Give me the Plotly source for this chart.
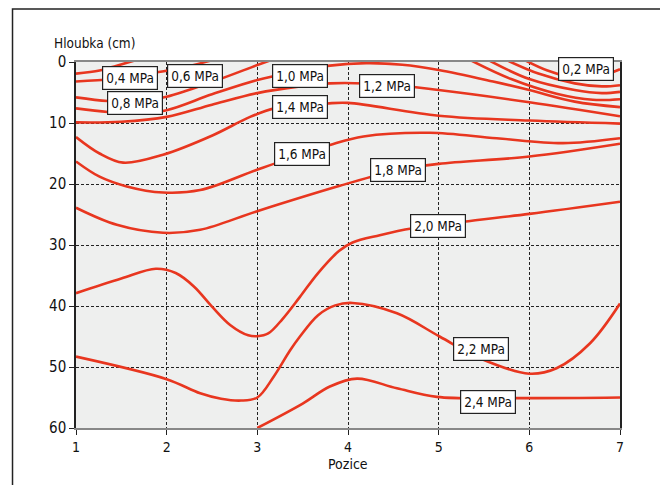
import plotly.graph_objects as go

# ---- data ----
pos_ticks = [1, 2, 3, 4, 5, 6, 7]
depth_ticks = [0, 10, 20, 30, 40, 50, 60]

p02_x = [5.95, 6.2, 6.5, 6.8, 7.0]
p02_y = [-0.3, 1.4, 2.6, 2.2, 1.2]

p04a_x = [1.0, 1.26, 1.45, 1.66]
p04a_y = [1.9, 1.4, 0.6, -0.3]
p04b_x = [5.75, 6.1, 6.5, 6.8, 7.0]
p04b_y = [-0.3, 1.9, 3.5, 4.0, 3.8]

p06a_x = [1.0, 1.4, 1.75, 2.04, 2.3, 2.5]
p06a_y = [3.2, 2.8, 2.0, 1.3, 0.5, -0.3]
p06b_x = [5.55, 6.0, 6.5, 6.8, 7.0]
p06b_y = [-0.3, 2.8, 4.6, 5.1, 4.9]

p08a_x = [1.0, 1.35, 1.65, 2.0, 2.55, 3.0, 3.15]
p08a_y = [5.8, 6.4, 6.5, 5.7, 3.0, 0.5, -0.3]
p08b_x = [5.35, 5.8, 6.3, 6.7, 7.0]
p08b_y = [-0.3, 2.8, 5.2, 6.2, 6.1]

p10_x = [1.0, 1.35, 1.65, 2.0, 2.5, 3.0, 3.47, 3.8, 4.2, 4.6, 5.0, 5.6, 6.0, 6.5, 7.0]
p10_y = [7.6, 8.2, 8.4, 7.9, 5.3, 2.95, 1.5, 0.6, 0.2, 0.45, 1.3, 3.2, 4.6, 6.5, 7.4]

p12_x = [1.0, 1.5, 2.0, 2.5, 3.0, 3.47, 3.8, 4.43, 5.0, 6.0, 7.0]
p12_y = [9.9, 9.8, 9.0, 7.0, 5.1, 4.0, 3.5, 3.7, 4.6, 6.6, 8.9]

p14_x = [1.0, 1.26, 1.52, 1.96, 2.51, 2.92, 3.19, 3.47, 3.77, 4.0, 5.0, 6.0, 7.0]
p14_y = [12.3, 15.0, 16.5, 15.2, 12.0, 9.0, 7.6, 7.2, 6.8, 6.7, 8.8, 9.6, 10.1]

p16_x = [1.0, 1.26, 1.56, 1.96, 2.37, 2.99, 3.49, 3.8, 4.17, 4.9, 5.64, 6.37, 7.0]
p16_y = [16.3, 18.8, 20.4, 21.4, 21.0, 17.7, 15.1, 13.6, 12.2, 11.6, 12.5, 13.3, 12.5]

p18_x = [1.0, 1.45, 1.96, 2.37, 2.99, 3.91, 4.55, 5.0, 6.0, 7.0]
p18_y = [23.9, 26.7, 28.0, 27.5, 24.5, 20.3, 17.7, 16.7, 15.5, 13.4]

p20_x = [1.0, 1.5, 1.88, 2.1, 2.3, 2.5, 2.7, 2.9, 3.0, 3.12, 3.28, 3.47, 3.67, 3.9, 4.05, 4.35, 4.7, 5.0, 5.27, 6.0, 7.0]
p20_y = [37.9, 35.5, 33.9, 34.6, 36.8, 40.1, 43.1, 44.8, 44.95, 44.5, 42.1, 38.5, 34.6, 31.0, 29.6, 28.4, 27.3, 26.8, 26.2, 24.9, 22.9]

p22_x = [1.0, 2.0, 2.37, 2.6, 2.82, 3.0, 3.18, 3.36, 3.47, 3.67, 3.86, 4.05, 4.54, 5.01, 5.46, 6.0, 6.3, 6.67, 7.0]
p22_y = [48.3, 52.0, 54.3, 55.2, 55.5, 55.0, 51.6, 47.3, 45.0, 41.5, 39.9, 39.5, 41.2, 45.0, 48.6, 51.1, 50.2, 46.1, 39.6]

p24_x = [3.0, 3.5, 3.8, 4.1, 4.54, 4.98, 5.86, 7.0]
p24_y = [60.0, 56.0, 53.2, 51.9, 53.5, 54.9, 55.1, 55.0]

label_text = ["0,2 MPa", "0,4 MPa", "0,6 MPa", "0,8 MPa", "1,0 MPa", "1,2 MPa",
              "1,4 MPa", "1,6 MPa", "1,8 MPa", "2,0 MPa", "2,2 MPa", "2,4 MPa"]
label_x = [6.62, 1.60, 2.31, 1.65, 3.47, 4.43, 3.47, 3.49, 4.55, 4.99, 5.47, 5.54]
label_y = [1.2, 2.7, 2.3, 6.8, 2.3, 3.9, 7.4, 15.1, 17.7, 26.9, 47.1, 55.7]

curves = [
    (p02_x, p02_y), (p04a_x, p04a_y), (p04b_x, p04b_y), (p06a_x, p06a_y), (p06b_x, p06b_y),
    (p08a_x, p08a_y), (p08b_x, p08b_y), (p10_x, p10_y), (p12_x, p12_y), (p14_x, p14_y),
    (p16_x, p16_y), (p18_x, p18_y), (p20_x, p20_y), (p22_x, p22_y), (p24_x, p24_y),
]

FONT = "Liberation Sans Narrow, DejaVu Sans Condensed, Arial Narrow, sans-serif"
RED = "#e8361f"

fig = go.Figure()
for cx, cy in curves:
    fig.add_trace(go.Scatter(x=cx, y=cy, mode="lines",
                             line=dict(color=RED, width=2.6, shape="spline", smoothing=1.0),
                             hoverinfo="skip", showlegend=False))

for t, lx, ly in zip(label_text, label_x, label_y):
    fig.add_annotation(x=lx, y=ly, xref="x", yref="y", text=t, showarrow=False,
                       font=dict(family=FONT, size=13.5, color="#111"),
                       bgcolor="white", bordercolor="#222", borderwidth=1.2, borderpad=3)

fig.add_annotation(x=-0.044, y=1.052, xref="paper", yref="paper", text="Hloubka (cm)",
                   showarrow=False, xanchor="left", yanchor="middle",
                   font=dict(family=FONT, size=13.5, color="#111"))
fig.add_annotation(x=0.5, y=-0.098, xref="paper", yref="paper", text="Pozice",
                   showarrow=False, xanchor="center", yanchor="middle",
                   font=dict(family=FONT, size=14, color="#111"))

# outer frame
fig.add_shape(type="rect", xref="paper", yref="paper",
              x0=-0.1167, x1=1.079, y0=-0.25, y1=1.1448,
              line=dict(color="#222", width=1.5), fillcolor="rgba(0,0,0,0)", layer="below")

fig.update_layout(
    width=668, height=485,
    margin=dict(l=68, r=56, t=54, b=65),
    paper_bgcolor="white", plot_bgcolor="#eeefee",
    font=dict(family=FONT, size=14, color="#111"),
    showlegend=False,
)
fig.update_xaxes(range=[1, 7], tickvals=pos_ticks, ticktext=[str(v) for v in pos_ticks],
                 showgrid=True, gridcolor="#222", griddash="3px,2px", gridwidth=1,
                 showline=True, linecolor="#888", linewidth=1.5, mirror=True,
                 ticks="outside", ticklen=5, tickcolor="#222", zeroline=False,
                 tickfont=dict(family=FONT, size=14))
fig.update_yaxes(range=[60, 0], tickvals=depth_ticks, ticktext=[str(v) for v in depth_ticks],
                 showgrid=True, gridcolor="#222", griddash="3px,2px", gridwidth=1,
                 showline=True, linecolor="#222", linewidth=1.5, mirror=True,
                 ticks="outside", ticklen=5, tickcolor="#222", zeroline=False,
                 tickfont=dict(family=FONT, size=15))

fig.write_html("out.html")
